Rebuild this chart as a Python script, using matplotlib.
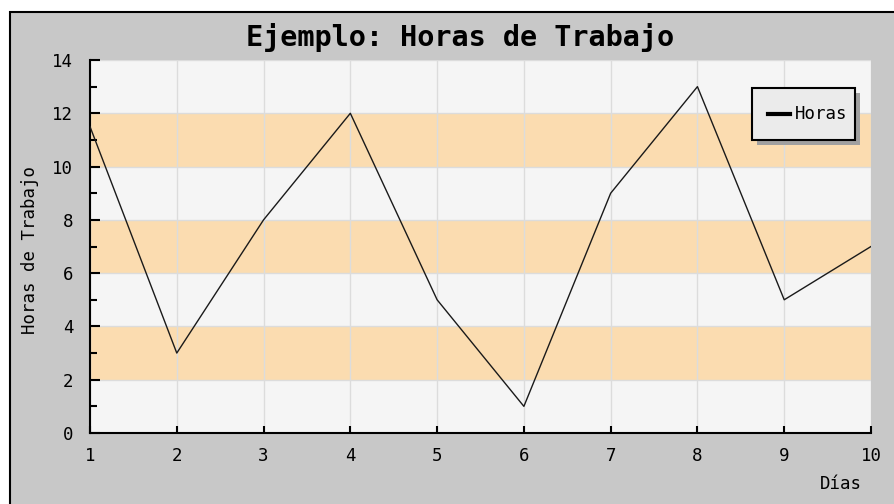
import matplotlib
matplotlib.use("Agg")
import matplotlib.pyplot as plt
from matplotlib.patches import Rectangle
from matplotlib.ticker import MultipleLocator

dias = [1, 2, 3, 4, 5, 6, 7, 8, 9, 10]
horas = [11.5, 3, 8, 12, 5, 1, 9, 13, 5, 7]
titulo = "Ejemplo: Horas de Trabajo"
ylabel = "Horas de Trabajo"
xlabel = "Días"
serie = "Horas"

W, H = 895, 504
fig = plt.figure(figsize=(W / 100, H / 100), dpi=100)
fig.patch.set_facecolor("white")
mono = "DejaVu Sans Mono"

# outer grey frame
fig.patches.append(Rectangle((10 / W, -0.01), 1.0, (H - 12) / H + 0.01,
                             transform=fig.transFigure, facecolor="#c8c8c8",
                             edgecolor="black", linewidth=1.5, zorder=-5))

ax = fig.add_axes([90 / W, (H - 433) / H, (871 - 90) / W, (433 - 60) / H])
ax.set_zorder(1)
ax.set_facecolor("#f5f5f5")
ax.set_xlim(1, 10)
ax.set_ylim(0, 14)

for lo in (2, 6, 10):
    ax.axhspan(lo, lo + 2, facecolor="#fbdcb0", edgecolor="none", zorder=0)

ax.grid(True, color="#dcdcdc", linewidth=1, zorder=0.5)
ax.set_axisbelow(True)

ax.plot(dias, horas, color="#1a1a1a", linewidth=1.0, label=serie, zorder=3)

ax.xaxis.set_major_locator(MultipleLocator(1))
ax.yaxis.set_major_locator(MultipleLocator(2))
ax.yaxis.set_minor_locator(MultipleLocator(1))
ax.tick_params(axis="both", which="both", direction="in", color="black",
               width=1.5, labelsize=12.5, labelfontfamily=mono)
ax.tick_params(axis="x", which="major", length=5, pad=10)
ax.tick_params(axis="y", which="major", length=7, pad=12)
ax.tick_params(axis="y", which="minor", length=5)

for s in ("top", "right"):
    ax.spines[s].set_visible(False)
for s in ("left", "bottom"):
    ax.spines[s].set_linewidth(1.5)

fig.text(460 / W, 1 - 38 / H, titulo, ha="center", va="center",
         fontsize=20.5, fontfamily=mono, fontweight="bold")
fig.text(30 / W, 1 - 250 / H, ylabel, ha="center", va="center",
         rotation=90, fontsize=12.5, fontfamily=mono)
fig.text(862 / W, 1 - 484 / H, xlabel, ha="right", va="center",
         fontsize=12.5, fontfamily=mono)

# legend with shadow
lx0, ly0, lx1, ly1 = 752, 88, 855, 140
fig.patches.append(Rectangle(((lx0 + 5) / W, 1 - (ly1 + 5) / H), (lx1 - lx0) / W,
                             (ly1 - ly0) / H, transform=fig.transFigure,
                             facecolor="#a0a0a0", edgecolor="none", zorder=5))
fig.patches.append(Rectangle((lx0 / W, 1 - ly1 / H), (lx1 - lx0) / W,
                             (ly1 - ly0) / H, transform=fig.transFigure,
                             facecolor="#ebebeb", edgecolor="black",
                             linewidth=1.5, zorder=6))
fig.add_artist(plt.Line2D([768 / W, 790 / W], [1 - 114 / H, 1 - 114 / H],
                          transform=fig.transFigure, color="black",
                          linewidth=3, zorder=7))
fig.text(795 / W, 1 - 114 / H, serie, ha="left", va="center",
         fontsize=12.5, fontfamily=mono, zorder=7)

fig.savefig("out.png", dpi=100)
